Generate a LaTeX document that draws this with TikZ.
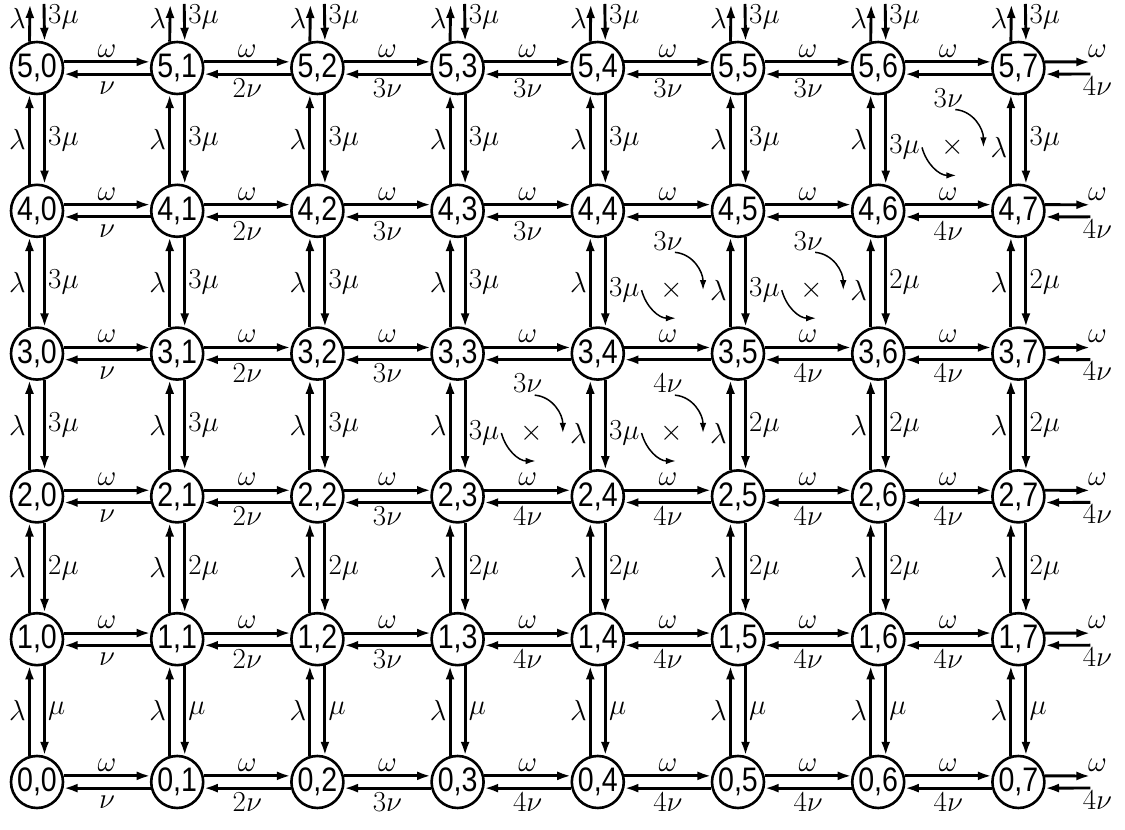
\RequirePackage{fix-cm}
\documentclass[tikz,border=0pt]{standalone}
\usepackage{graphicx}
\usepackage{fontspec}
\newfontfamily\nodefont{Liberation Sans}
\usetikzlibrary{arrows.meta,calc}
\tikzset{
  st/.style={circle,draw,line width=2.6pt,minimum size=52pt,inner sep=0pt,
     font=\nodefont\fontsize{34}{34}\selectfont},
  tr/.style={line width=2.9pt,-{Latex[length=14pt,width=9pt]}},
  lab/.style={inner sep=1pt,font=\fontsize{29}{29}\selectfont},
  ann/.style={line width=1.5pt,-{Latex[length=10pt,width=6.5pt]}},
}
\newcommand\nd[2]{\scalebox{0.84}[1]{#1,#2}}
\begin{document}
\begin{tikzpicture}[x=1pt,y=1pt]
\useasboundingbox (0,0) rectangle (1125,830);
% states
\foreach \i in {0,...,5}{
  \foreach \j in {0,...,7}{
    \node[st] (n\i\j) at ({37+140.2*\j},{48+142.8*\i}) {\nd{\i}{\j}};
  }
}
% horizontal transitions
\foreach \i in {0,...,5}{
  \foreach \j in {0,...,6}{
    \pgfmathtruncatemacro\k{\j+1}
    \draw[tr] (n\i\j.13) -- (n\i\k.167);
    \draw[tr] (n\i\k.193) -- (n\i\j.347);
    \node[lab] (w\i\j) at ($(n\i\j)!0.5!(n\i\k)+(0,17)$) {$\omega$};
  }
  \coordinate (ro\i) at ($(n\i7)+(72,6)$);
  \coordinate (ri\i) at ($(n\i7)+(72,-6)$);
  \draw[tr] (n\i7.13) -- (ro\i);
  \draw[tr] (ri\i) -- (n\i7.347);
  \node[lab] (w\i7) at ($(n\i7)+(79,17)$) {$\omega$};
}
% backward labels
\foreach \i/\lst in {0/{1,2,3,4,4,4,4,4},1/{1,2,3,4,4,4,4,4},2/{1,2,3,4,4,4,4,4},3/{1,2,3,3,4,4,4,4},4/{1,2,3,3,3,3,4,4},5/{1,2,3,3,3,3,3,4}}{
  \foreach \c [count=\j from 0] in \lst {
    \pgfmathtruncatemacro\k{\j+1}
    \pgfmathtruncatemacro\isann{((\i==5)&&(\j==6))||((\i==4)&&(\j>3)&&(\j<6))||((\i==3)&&(\j>2)&&(\j<5))}
    \pgfmathsetmacro\off{-20-10*\isann}
    \ifnum\j<7
      \node[lab] (h\i\j) at ($(n\i\j)!0.5!(n\i\k)+(0,\off)$) {\ifnum\c=1 $\nu$\else $\c\nu$\fi};
    \else
      \node[lab] (h\i\j) at ($(n\i7)+(79,-18)$) {$\c\nu$};
    \fi
  }
}
% vertical transitions
\foreach \i/\lst in {0/{1,1,1,1,1,1,1,1},1/{2,2,2,2,2,2,2,2},2/{3,3,3,3,3,2,2,2},3/{3,3,3,3,3,3,2,2},4/{3,3,3,3,3,3,3,3},5/{3,3,3,3,3,3,3,3}}{
  \foreach \c [count=\j from 0] in \lst {
    \pgfmathtruncatemacro\k{\i+1}
    \ifnum\i<5
      \pgfmathtruncatemacro\annl{((\i==4)&&(\j==7))||((\i==3)&&(\j>4)&&(\j<7))||((\i==2)&&(\j>3)&&(\j<6))}
      \pgfmathtruncatemacro\annm{((\i==4)&&(\j==6))||((\i==3)&&(\j>3)&&(\j<6))||((\i==2)&&(\j>2)&&(\j<5))}
      \pgfmathsetmacro\offl{-8*\annl}
      \pgfmathsetmacro\offm{-8*\annm}
      \draw[tr] (n\i\j.106) -- (n\k\j.254);
      \draw[tr] (n\k\j.286) -- (n\i\j.74);
      \node[lab,anchor=east] (L\i\j) at ($(n\i\j)!0.5!(n\k\j)+(-10,\offl)$) {$\lambda$};
      \node[lab,anchor=west] (M\i\j) at ($(n\i\j)!0.5!(n\k\j)+(10,\offm)$) {\ifnum\c=1 $\mu$\else $\c\mu$\fi};
    \else
      \coordinate (tu\j) at ($(n5\j)+(-7,64)$);
      \coordinate (td\j) at ($(n5\j)+(7,64)$);
      \draw[tr] (n5\j.106) -- (tu\j);
      \draw[tr] (td\j) -- (n5\j.74);
      \node[lab,anchor=east] (L5\j) at ($(n5\j)+(-10,50)$) {$\lambda$};
      \node[lab,anchor=west] (M5\j) at ($(n5\j)+(10,51)$) {$\c\mu$};
    \fi
  }
}
% annotations
\foreach \lo/\up/\a/\b in {4/5/6/7,3/4/4/5,3/4/5/6,2/3/3/4,2/3/4/5}{
  \node[lab] (X\lo\a) at ($(n\lo\a)!0.5!(n\up\b)+(4,-8)$) {$\times$};
  \coordinate (E\lo\a) at ($(X\lo\a)+(4,-28)$);
  \draw[ann] ([xshift=7pt,yshift=-1pt]h\up\a.south) to[out=-5,in=90] ([xshift=-6pt]L\lo\b.west);
  \draw[ann] ([xshift=1pt]M\lo\a.east) to[out=-75,in=180] (E\lo\a);
}
\end{tikzpicture}
\end{document}
